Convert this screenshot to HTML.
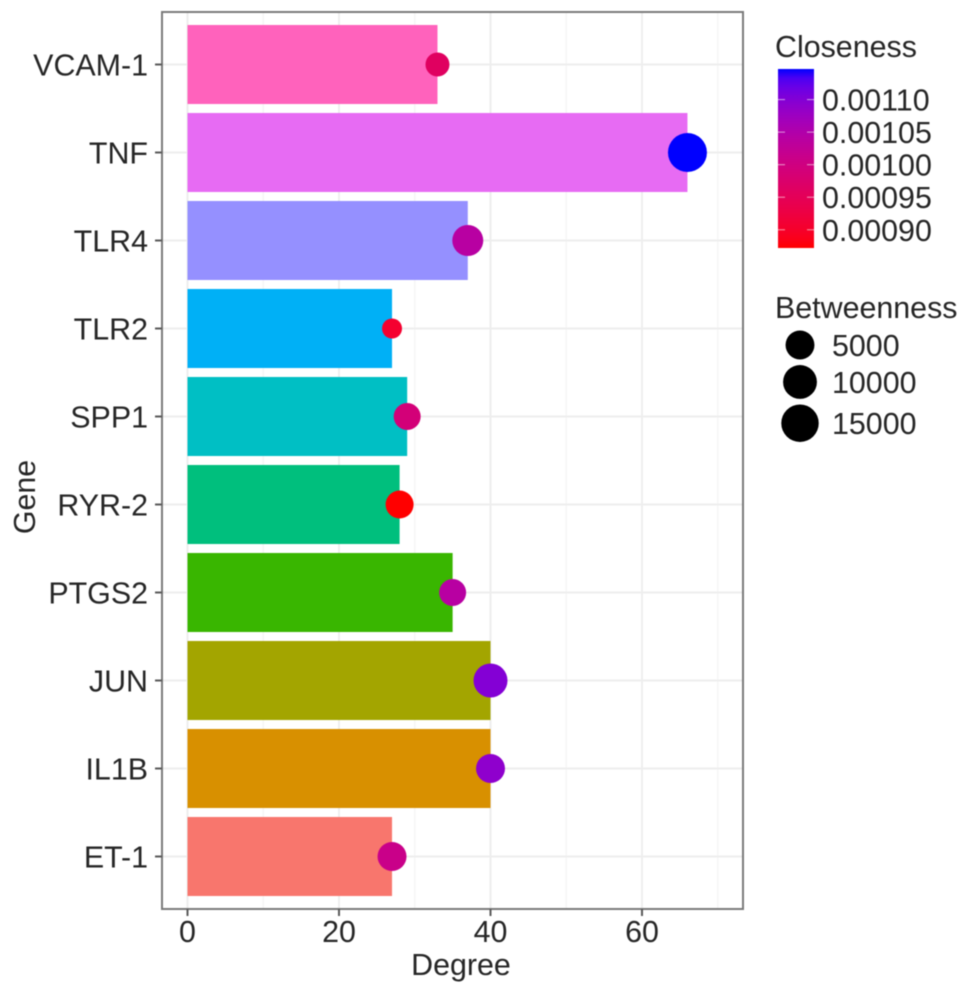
<!DOCTYPE html>
<html>
<head>
<meta charset="utf-8">
<title>Gene degree chart</title>
<style>
html,body{margin:0;padding:0;background:#fff;}
svg{display:block;filter:blur(0.5px);}
text{font-family:"Liberation Sans",sans-serif;fill:#262626;font-size:30.4px;}
</style>
</head>
<body>
<svg id="chart" width="969" height="994" viewBox="0 0 969 994" xmlns="http://www.w3.org/2000/svg">
  <defs>
    <linearGradient id="closeness-gradient" x1="0" y1="1" x2="0" y2="0"></linearGradient>
  </defs>
  <rect x="0" y="0" width="969" height="994" fill="#ffffff"/>
  <g id="grid"></g>
  <g id="bars"></g>
  <g id="points"></g>
  <rect x="162" y="12" width="581" height="897" fill="none" stroke="#7a7a7a" stroke-width="2"/>
  <g id="x-axis"></g>
  <g id="y-axis"></g>
  <text x="461" y="975" text-anchor="middle">Degree</text>
  <text transform="translate(35,497) rotate(-90)" text-anchor="middle">Gene</text>
  <g id="color-legend">
    <text x="775" y="57">Closeness</text>
    <rect x="778" y="69" width="36" height="179" fill="url(#closeness-gradient)"/>
  </g>
  <g id="size-legend">
    <text x="775" y="318">Betweenness</text>
  </g>
</svg>
<script>
// Chart data (bottom to top on the y axis)
const genes = ["ET-1", "IL1B", "JUN", "PTGS2", "RYR-2", "SPP1", "TLR2", "TLR4", "TNF", "VCAM-1"];
const degree = [27, 40, 40, 35, 28, 29, 27, 37, 66, 33];
const closeness = [0.00101, 0.00109, 0.00110, 0.00104, 0.000872, 0.00099, 0.000905, 0.00104, 0.001147, 0.00096];
const betweenness = [5090, 5090, 10190, 3680, 4340, 3680, 1500, 6860, 17500, 2200];
const barPalette = ["#F8766D", "#D89000", "#A3A500", "#39B600", "#00BF7D", "#00BFC4", "#00B0F6", "#9590FF", "#E76BF3", "#FF62BC"];
const xTicks = [0, 20, 40, 60];
const xMinorTicks = [10, 30, 50, 70];
const closenessTicks = [0.00090, 0.00095, 0.00100, 0.00105, 0.00110];
const closenessTickLabels = ["0.00090", "0.00095", "0.00100", "0.00105", "0.00110"];
const betweennessBreaks = [5000, 10000, 15000];

const NS = "http://www.w3.org/2000/svg";

function make(tag, attrs, parent, text) {
  const el = document.createElementNS(NS, tag);
  for (const k in attrs) el.setAttribute(k, attrs[k]);
  if (text !== undefined) el.textContent = text;
  parent.appendChild(el);
  return el;
}

// Scales
const xScale = v => 187.5 + v * 7.575;
const yScale = i => 856.5 - i * 88;
const bandHeight = 79;
const closenessDomain = [Math.min(...closeness), Math.max(...closeness)];
const closenessY = v => 248 - (v - closenessDomain[0]) / (closenessDomain[1] - closenessDomain[0]) * 179;
const sizeDomain = [Math.min(...betweenness), Math.max(...betweenness)];
const radius = v => 10 + 9.5 * Math.sqrt(Math.max(0, (v - sizeDomain[0]) / (sizeDomain[1] - sizeDomain[0])));

// Red-to-blue gradient interpolated in Lab space
const labRed = [53.24, 80.09, 67.2];
const labBlue = [32.3, 79.19, -107.86];
function labToHex(L, a, b) {
  const fy = (L + 16) / 116, fx = fy + a / 500, fz = fy - b / 200;
  const inv = t => t > 6 / 29 ? t * t * t : 3 * (6 / 29) * (6 / 29) * (t - 4 / 29);
  const X = 0.95047 * inv(fx), Y = inv(fy), Z = 1.08883 * inv(fz);
  const lin = [
    3.2406 * X - 1.5372 * Y - 0.4986 * Z,
    -0.9689 * X + 1.8758 * Y + 0.0415 * Z,
    0.0557 * X - 0.204 * Y + 1.057 * Z
  ];
  return "#" + lin.map(c => {
    c = Math.min(1, Math.max(0, c));
    const s = c <= 0.0031308 ? 12.92 * c : 1.055 * Math.pow(c, 1 / 2.4) - 0.055;
    return Math.round(s * 255).toString(16).padStart(2, "0");
  }).join("");
}
function gradientColor(t) {
  return labToHex(
    labRed[0] + (labBlue[0] - labRed[0]) * t,
    labRed[1] + (labBlue[1] - labRed[1]) * t,
    labRed[2] + (labBlue[2] - labRed[2]) * t
  );
}
const closenessColor = v => gradientColor((v - closenessDomain[0]) / (closenessDomain[1] - closenessDomain[0]));

// Grid
const grid = document.getElementById("grid");
xMinorTicks.forEach(v => {
  const l = make("line", {x1: xScale(v), x2: xScale(v), y1: 13, y2: 908, stroke: "#f3f3f3", "stroke-width": 1}, grid);
  
  
});
xTicks.forEach(v => {
  const l = make("line", {x1: xScale(v), x2: xScale(v), y1: 13, y2: 908, stroke: "#eeeeee", "stroke-width": 2}, grid);
  
  
});
genes.forEach((g, i) => {
  const l = make("line", {x1: 163, x2: 742, y1: yScale(i), y2: yScale(i), stroke: "#eeeeee", "stroke-width": 2}, grid);
  
  
});

// Bars
const barsG = document.getElementById("bars");
genes.forEach((g, i) => {
  const r = make("rect", {
    x: xScale(0), y: yScale(i) - bandHeight / 2,
    width: xScale(degree[i]) - xScale(0), height: bandHeight,
    fill: barPalette[i]
  }, barsG);
  
  
});

// Points
const pointsG = document.getElementById("points");
genes.forEach((g, i) => {
  const c = make("circle", {
    cx: xScale(degree[i]), cy: yScale(i),
    r: radius(betweenness[i]), fill: closenessColor(closeness[i])
  }, pointsG);
  
  
});

// X axis
const xAxis = document.getElementById("x-axis");
xTicks.forEach(v => {
  const t = make("line", {x1: xScale(v), x2: xScale(v), y1: 909, y2: 916, stroke: "#5a5a5a", "stroke-width": 2}, xAxis);
  
  
  const lab = make("text", {x: xScale(v), y: 942, "text-anchor": "middle"}, xAxis, String(v));
  
  
});

// Y axis
const yAxis = document.getElementById("y-axis");
genes.forEach((g, i) => {
  const t = make("line", {x1: 155, x2: 162, y1: yScale(i), y2: yScale(i), stroke: "#5a5a5a", "stroke-width": 2}, yAxis);
  
  
  const lab = make("text", {x: 148, y: yScale(i) + 11, "text-anchor": "end"}, yAxis, g);
  
  
});

// Colour legend
const gradient = document.getElementById("closeness-gradient");
for (let s = 0; s <= 20; s++) {
  make("stop", {offset: (s * 5) + "%", "stop-color": gradientColor(s / 20)}, gradient);
}
const colorLegend = document.getElementById("color-legend");
closenessTicks.forEach((v, i) => {
  const y = closenessY(v);
  const a = make("line", {x1: 778, x2: 785, y1: y, y2: y, stroke: "#ffffff", "stroke-opacity": 0.6, "stroke-width": 1}, colorLegend);
  
  
  const b = make("line", {x1: 807, x2: 814, y1: y, y2: y, stroke: "#ffffff", "stroke-opacity": 0.6, "stroke-width": 1}, colorLegend);
  
  
  const lab = make("text", {x: 822, y: y + 11}, colorLegend, closenessTickLabels[i]);
  
  
});

// Size legend
const sizeLegend = document.getElementById("size-legend");
let keyY = 345;
betweennessBreaks.forEach((v, i) => {
  const r = radius(v);
  if (i > 0) keyY += radius(betweennessBreaks[i - 1]) + r + 5.6;
  const c = make("circle", {cx: 800, cy: keyY, r: r, fill: "#000000"}, sizeLegend);
  
  
  const lab = make("text", {x: 832, y: keyY + 11}, sizeLegend, String(v));
  
  
});
</script>
</body>
</html>
